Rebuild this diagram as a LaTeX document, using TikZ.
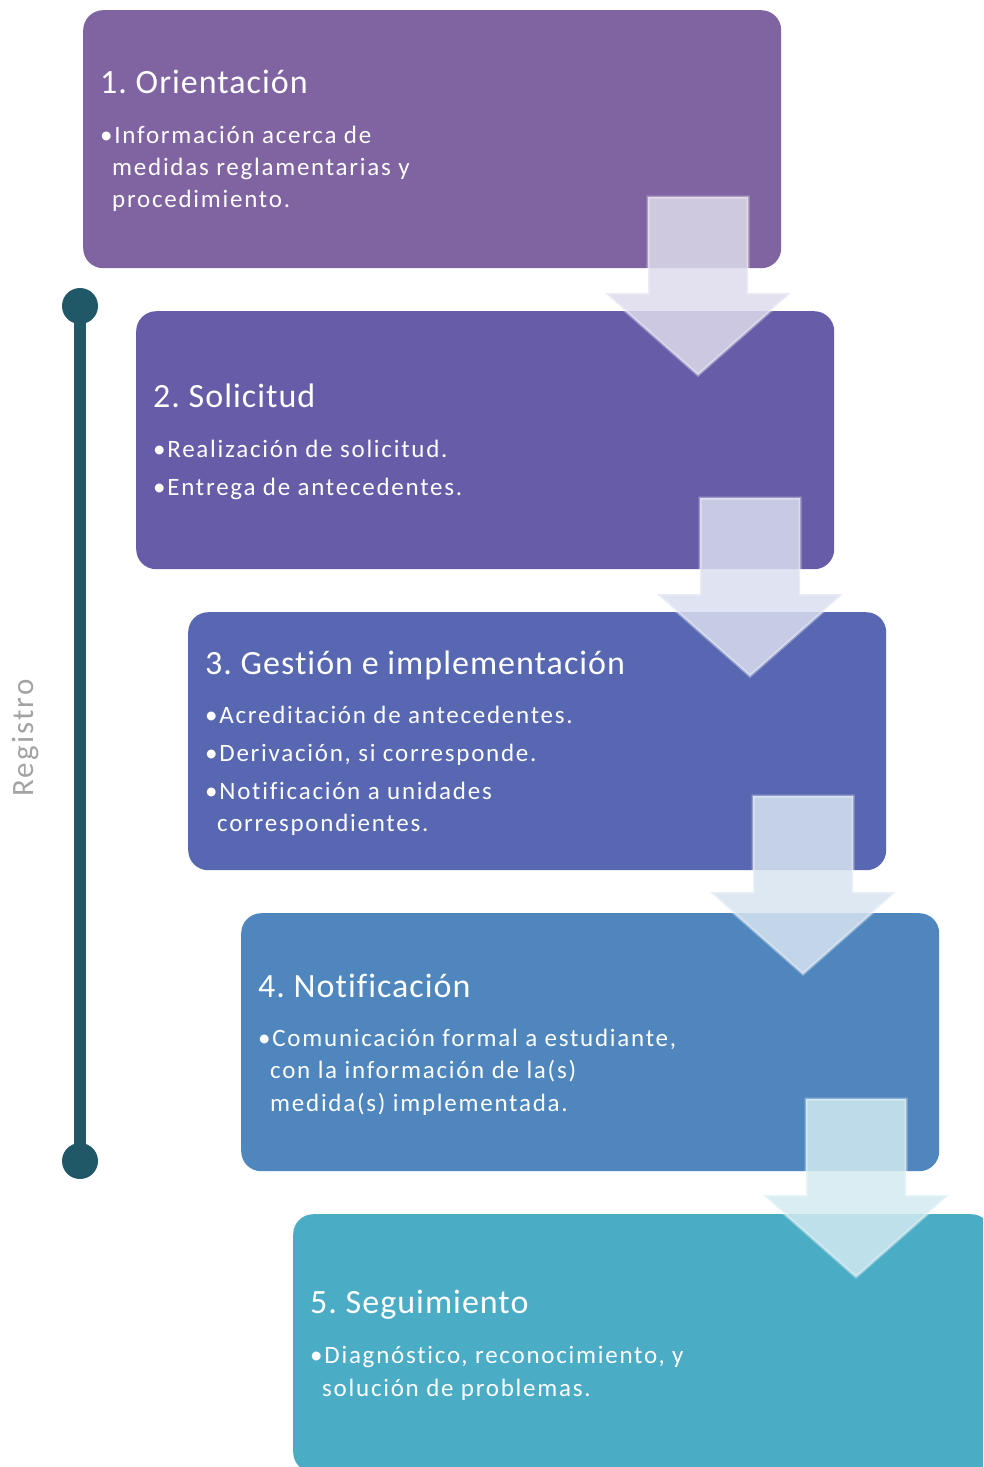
\documentclass[tikz,border=0pt]{standalone}
\usepackage{fontspec}
\setmainfont{Carlito}[Ligatures=NoCommon]
\newfontfamily\bodyf{Carlito}[LetterSpace=7,Ligatures=NoCommon]
\newfontfamily\titlef{Carlito}[LetterSpace=3,Ligatures=NoCommon]
\definecolor{cA}{HTML}{8064A2}
\definecolor{cB}{HTML}{675CA8}
\definecolor{cC}{HTML}{5767B2}
\definecolor{cD}{HTML}{4F86BD}
\definecolor{cE}{HTML}{4BACC6}
\definecolor{tl}{HTML}{215868}
\definecolor{regc}{HTML}{A3A3A3}
\frenchspacing
\begin{document}
\begin{tikzpicture}[x=1pt,y=-1pt,
  box/.style={rounded corners=20pt, minimum width=698pt, minimum height=258pt, inner sep=0pt, anchor=north west},
  arr/.style={fill opacity=0.85, draw=white, draw opacity=0.35, line width=3pt, line join=miter},
  ttl/.style={text=white, anchor=base west, inner sep=0pt, font=\titlef\fontsize{34}{40}\selectfont},
  txt/.style={text=white, anchor=base west, inner sep=0pt, font=\bodyf\fontsize{25}{32}\selectfont},
  dot/.style={circle, fill=tl, minimum size=36pt, inner sep=0pt}]
\useasboundingbox (0,0) rectangle (983,1467);
\begin{scope}
\clip (0,0) rectangle (983,1467);
% boxes
\node[box, fill=cA] (b1) at (83,10) {};
\node[box, fill=cB] (b2) at (136,311) {};
\node[box, fill=cC] (b3) at (188,612) {};
\node[box, fill=cD] (b4) at (241,913) {};
\node[box, fill=cE] (b5) at (293,1214) {};
% arrows
\newcommand\dnarrow[3]{%
  \filldraw[arr, fill=#3] (#1-50,#2) -- (#1+50,#2) -- (#1+50,#2+96) -- (#1+93,#2+96)
    -- (#1,#2+178) -- (#1-93,#2+96) -- (#1-50,#2+96) -- cycle;}
\dnarrow{698}{197}{cB!22!white}
\dnarrow{750}{498}{cC!22!white}
\dnarrow{803}{796}{cD!22!white}
\dnarrow{856}{1099}{cE!25!white}
\end{scope}
% timeline
\node[dot] (ta) at (80,306) {};
\node[dot] (tb) at (80,1161) {};
\draw[tl, line width=12pt] (ta.center) -- (tb.center);
\node[rotate=90, text=regc, font=\bodyf\fontsize{31}{36}\selectfont, inner sep=0pt] (reg) at (25,738) {Registro};
% texts box 1
\node[ttl] (t1) at (100,93) {1. Orientación};
\node[txt] (t1a) at (100,143) {•Información acerca de};
\node[txt] (t1b) at (112,175) {medidas reglamentarias y};
\node[txt] (t1c) at (112,207) {procedimiento.};
% box 2
\node[ttl] (t2) at (153,407) {2. Solicitud};
\node[txt] (t2a) at (153,457) {•Realización de solicitud.};
\node[txt] (t2b) at (153,495) {•Entrega de antecedentes.};
% box 3
\node[ttl] (t3) at (205,674) {3. Gestión e implementación};
\node[txt] (t3a) at (205,723) {•Acreditación de antecedentes.};
\node[txt] (t3b) at (205,761) {•Derivación, si corresponde.};
\node[txt] (t3c) at (205,799) {•Notificación a unidades};
\node[txt] (t3d) at (217,831) {correspondientes.};
% box 4
\node[ttl] (t4) at (258,997) {4. Notificación};
\node[txt] (t4a) at (258,1046) {•Comunicación formal a estudiante,};
\node[txt] (t4b) at (270,1078) {con la información de la(s)};
\node[txt] (t4c) at (270,1111) {medida(s) implementada.};
% box 5
\node[ttl] (t5) at (310,1313) {5. Seguimiento};
\node[txt] (t5a) at (310,1363) {•Diagnóstico, reconocimiento, y};
\node[txt] (t5b) at (322,1396) {solución de problemas.};
\end{tikzpicture}
\end{document}
